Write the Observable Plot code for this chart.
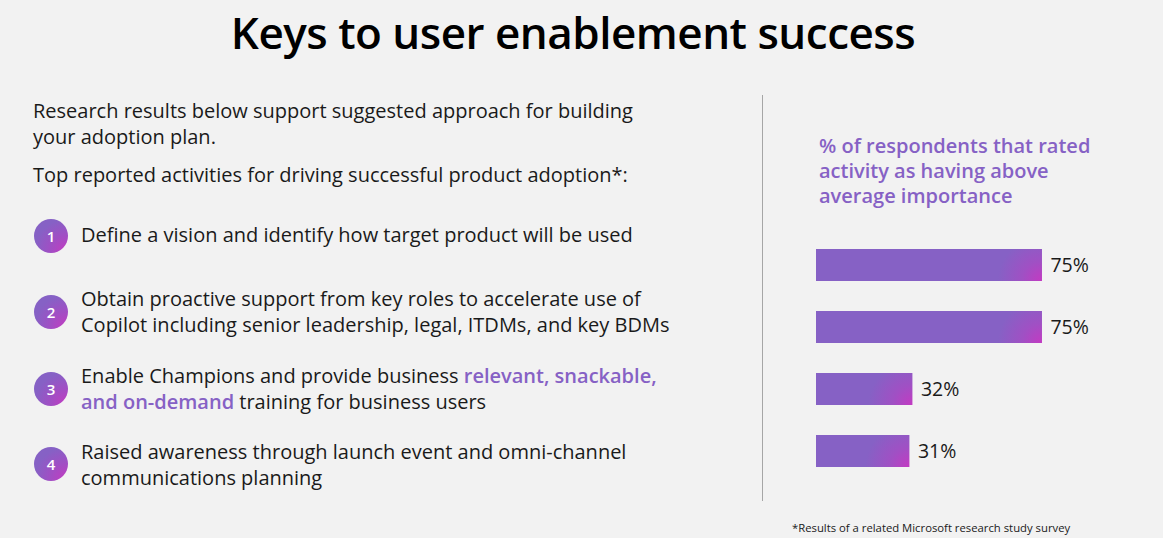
<!DOCTYPE html>
<html>
<head>
<meta charset="utf-8">
<script src="https://cdn.jsdelivr.net/npm/d3@7"></script>
<script src="https://cdn.jsdelivr.net/npm/@observablehq/plot@0.6"></script>
<style>
  html, body { margin: 0; padding: 0; }
  body { width: 1163px; height: 538px; background: #f2f2f2; position: relative; overflow: hidden;
         font-family: "Open Sans", "Noto Sans", sans-serif; color: #1a1a1a; }
  .abs { position: absolute; white-space: nowrap; }
  #title { left: 0; width: 1146px; top: 2px; text-align: center; font-size: 44px; font-weight: 600; color: #000; letter-spacing: -0.5px; }
  .txt { font-size: 20px; line-height: 25.5px; }
  .hl { color: #8661c5; font-weight: 600; }
  .num { width: 34px; height: 34px; border-radius: 50%; color: #fff; font-size: 15px; font-weight: 600;
         display: flex; align-items: center; justify-content: center;
         background: radial-gradient(circle at 95% 95%, #c23cc1 0%, #a14ec4 35%, #8661c5 70%); }
  #divider { left: 762px; top: 95px; width: 1px; height: 406px; background: #a6a6a6; }
  #ctitle { left: 819px; top: 133px; font-size: 20px; line-height: 25px; font-weight: 600; color: #8661c5; }
  #foot { left: 792px; top: 520px; font-size: 11.3px; color: #1a1a1a; }
  #chart { left: 816px; top: 200px; }
</style>
</head>
<body>
<div id="title" class="abs">Keys to user enablement success</div>

<div class="abs txt" style="left:33px; top:98px;">Research results below support suggested approach for building<br>your adoption plan.</div>
<div class="abs txt" style="left:33px; top:162px;">Top reported activities for driving successful product adoption*:</div>

<div class="abs num" style="left:34px; top:219px;">1</div>
<div class="abs txt" style="left:81px; top:222px;">Define a vision and identify how target product will be used</div>

<div class="abs num" style="left:34px; top:295px;">2</div>
<div class="abs txt" style="left:81px; top:286px;">Obtain proactive support from key roles to accelerate use of<br>Copilot including senior leadership, legal, ITDMs, and key BDMs</div>

<div class="abs num" style="left:34px; top:372px;">3</div>
<div class="abs txt" style="left:81px; top:363px;">Enable Champions and provide business <span class="hl">relevant, snackable,</span><br><span class="hl">and on-demand</span> training for business users</div>

<div class="abs num" style="left:34px; top:447px;">4</div>
<div class="abs txt" style="left:81px; top:439px;">Raised awareness through launch event and omni-channel<br>communications planning</div>

<div id="divider" class="abs"></div>
<div id="ctitle" class="abs">% of respondents that rated<br>activity as having above<br>average importance</div>
<div id="foot" class="abs">*Results of a related Microsoft research study survey</div>
<div id="chart" class="abs"></div>

<script>
const activities = ["1", "2", "3", "4"];
const shares = [75, 75, 32, 31];
const labels = ["75%", "75%", "32%", "31%"];

const rows = activities.map((a, i) => ({activity: a, share: shares[i], label: labels[i]}));

const chart = Plot.plot({
  width: 347,
  height: 300,
  margin: 0,
  style: {background: "transparent", overflow: "visible"},
  x: {domain: [0, 100], range: [0, 301.3], axis: null},
  y: {domain: activities, range: [18, 297.5], padding: 0.486, axis: null},
  marks: [
    Plot.barX(rows, {x: "share", y: "activity", fill: "#8661c5"}),
    Plot.text(rows, {x: "share", y: "activity", text: "label", dx: 8, textAnchor: "start",
                     fontSize: 19.5, fill: "#1a1a1a", fontFamily: "Open Sans, Noto Sans, sans-serif"})
  ]
});
document.getElementById("chart").appendChild(chart);

// radial highlight in each bar's bottom-right corner
const svg = d3.select(chart);
const defs = svg.insert("defs", ":first-child");
svg.selectAll("rect").each(function(d, i) {
  const r = d3.select(this);
  const x = +r.attr("x"), y = +r.attr("y"), w = +r.attr("width"), h = +r.attr("height");
  if (!w || !h) return;
  const g = defs.append("radialGradient").attr("id", "bg" + i)
    .attr("gradientUnits", "userSpaceOnUse")
    .attr("cx", x + w).attr("cy", y + h).attr("r", 44);
  g.append("stop").attr("offset", "0").attr("stop-color", "#c33ac2");
  g.append("stop").attr("offset", "0.45").attr("stop-color", "#a050c4");
  g.append("stop").attr("offset", "1").attr("stop-color", "#8661c5");
  r.attr("fill", `url(#bg${i})`);
});
</script>
</body>
</html>
